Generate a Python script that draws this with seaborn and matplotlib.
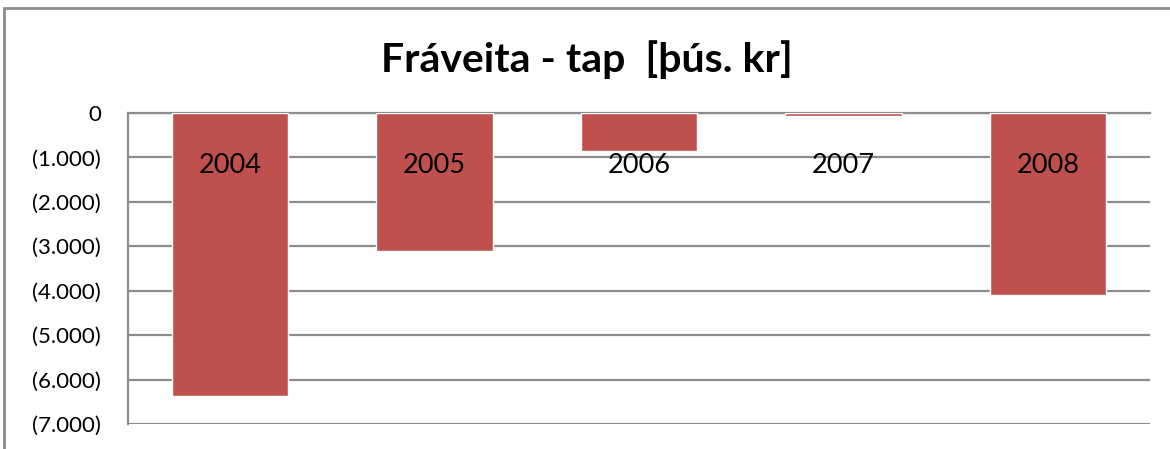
import matplotlib
matplotlib.use("Agg")
import matplotlib.pyplot as plt
import seaborn as sns
import pandas as pd
from matplotlib.patches import Rectangle
from matplotlib.ticker import FuncFormatter, MultipleLocator

# data
years = ["2004", "2005", "2006", "2007", "2008"]
values = [-6380, -3110, -845, -60, -4090]
title = "Fráveita - tap  [þús. kr]"

df = pd.DataFrame({"year": years, "value": values})

sns.set_style("white")
plt.rcParams["font.family"] = ["Lato", "DejaVu Sans"]

fig = plt.figure(figsize=(11.7, 4.49), dpi=100)
ax = fig.add_axes([128 / 1170, 1 - 424 / 449, (1150 - 128) / 1170, (424 - 113) / 449])

sns.barplot(data=df, x="year", y="value", color="#C0504D", width=0.57,
            saturation=1, ax=ax, zorder=3)

ax.set_ylim(-7000, 0)
ax.yaxis.set_major_locator(MultipleLocator(1000))


def thousands(v, pos):
    if v == 0:
        return "0"
    s = f"{abs(v):,.0f}".replace(",", ".")
    return f"({s})" if v < 0 else s


ax.yaxis.set_major_formatter(FuncFormatter(thousands))
ax.yaxis.grid(True, color="#8c8c8c", linewidth=1.6)
ax.set_axisbelow(True)
# year labels must sit on top of the bars
ax.xaxis.set_zorder(5)

# category labels sit just under the zero line, like Excel does
ax.tick_params(axis="x", bottom=False, labelbottom=False, top=False, labeltop=True,
               pad=-50, labelsize=19.5, labelcolor="black")
ax.tick_params(axis="y", left=False, labelsize=16, pad=16, labelcolor="black")
ax.set_xlabel("")
ax.set_ylabel("")

for side in ["right", "bottom"]:
    ax.spines[side].set_visible(False)
for side in ["left", "top"]:
    ax.spines[side].set_color("#8c8c8c")
    ax.spines[side].set_linewidth(1.6)

fig.text(0.5015, 1 - 60 / 449, title, ha="center", va="center",
         fontsize=29.5, fontweight="bold", color="black")

# outer chart frame (cropped at right and bottom in the reference)
fig.patches.append(Rectangle((4 / 1170, -0.1), 1.2, 1.1 - 8 / 449, transform=fig.transFigure,
                             fill=False, edgecolor="#8c8c8c", linewidth=2))

fig.savefig("out.png", dpi=100)
